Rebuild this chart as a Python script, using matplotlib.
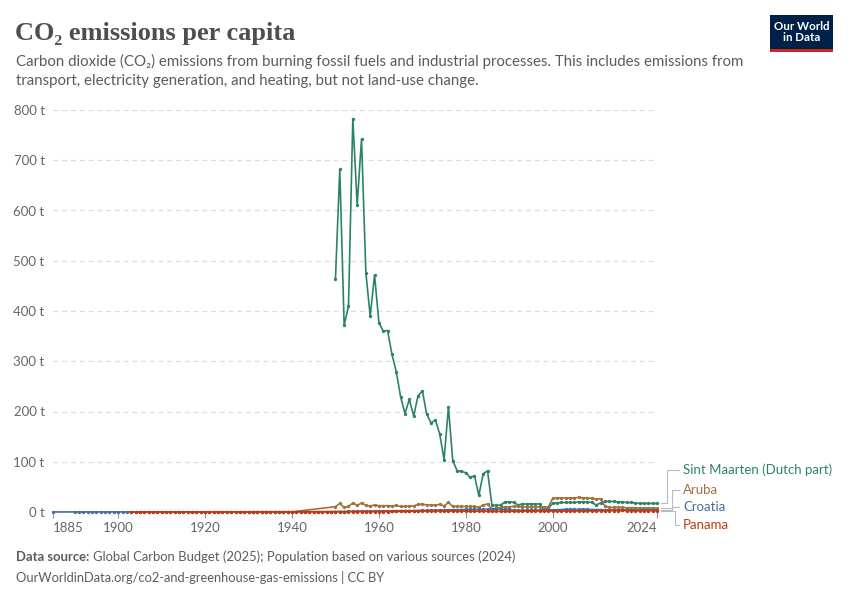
import matplotlib
matplotlib.use("Agg")
import matplotlib.pyplot as plt
from matplotlib.patches import Rectangle
from matplotlib.lines import Line2D

plt.rcParams['font.family'] = ['Lato', 'DejaVu Sans']

# --- data (t CO2 per person) ---
sxm_years = list(range(1950, 2025))
sxm_values = [464, 682, 372, 409, 783, 611, 742, 476, 390, 472,
              377, 360, 361, 314, 279, 229, 196, 224, 191, 231,
              241, 195, 177, 183, 155, 104, 209, 102, 82, 81,
              78, 69, 72, 33, 76, 82, 14, 13, 14, 20,
              20, 19, 14, 16, 16, 16, 16, 16, 4, 7,
              18, 18, 19, 19, 19, 19, 20, 20, 20, 19,
              14, 18, 21, 21, 21, 20, 20, 19, 19, 18,
              17, 17, 17, 17, 17]

aruba_years = list(range(1930, 1941)) + list(range(1950, 2025))
aruba_values = [0.3, 0.3, 0.3, 0.3, 0.3, 0.3, 0.3, 0.3, 0.3, 0.3, 0.3,
                10.6, 17, 9, 11, 18, 13, 18, 13, 12, 14,
                12.5, 12.5, 12.5, 12, 13, 11, 11, 12, 12, 15,
                16, 14, 14, 14, 15, 12, 19, 11, 11, 11,
                11, 11, 11, 9, 14, 16, 6, 8, 9, 10,
                10, 11, 11, 10, 10, 10, 10, 10, 10, 10,
                27, 28, 28, 28, 28, 28, 29, 28, 28, 27,
                26, 26, 12, 9, 9, 9, 9, 8.5, 8.5, 8.5,
                8, 8, 8, 8, 8]

croatia_years = [1885] + list(range(1890, 2025))
croatia_values = [0.05,
                  0.08, 0.08, 0.09, 0.09, 0.10, 0.10, 0.11, 0.11, 0.12, 0.12,
                  0.13, 0.13, 0.14, 0.14, 0.15, 0.15, 0.16, 0.17, 0.17, 0.18,
                  0.19, 0.20, 0.21, 0.22, 0.20, 0.18, 0.17, 0.17, 0.18, 0.20,
                  0.22, 0.24, 0.26, 0.28, 0.30, 0.32, 0.33, 0.35, 0.37, 0.39,
                  0.38, 0.36, 0.35, 0.37, 0.40, 0.43, 0.46, 0.50, 0.52, 0.54,
                  0.50, 0.45, 0.40, 0.38, 0.35, 0.40, 0.50, 0.60, 0.70, 0.80,
                  0.85, 0.90, 0.95, 1.00, 1.10, 1.20, 1.30, 1.40, 1.50, 1.60,
                  1.75, 1.90, 2.00, 2.10, 2.30, 2.40, 2.50, 2.60, 2.70, 2.90,
                  3.10, 3.30, 3.50, 3.70, 3.90, 4.00, 4.20, 4.40, 4.60, 4.80,
                  5.00, 5.10, 5.00, 5.00, 5.10, 5.20, 5.30, 5.40, 5.40, 5.30,
                  5.10, 3.60, 3.40, 3.50, 3.40, 3.60, 3.80, 4.00, 4.20, 4.30,
                  4.30, 4.60, 4.80, 5.10, 5.00, 5.00, 5.00, 5.20, 5.10, 4.80,
                  4.70, 4.60, 4.30, 4.20, 4.00, 4.10, 4.10, 4.30, 4.20, 4.30,
                  4.10, 4.30, 4.40, 4.20, 4.20]

panama_years = list(range(1903, 2025))
panama_values = [0.05, 0.05, 0.06, 0.06, 0.07, 0.07, 0.08,
                 0.08, 0.09, 0.10, 0.10, 0.11, 0.12, 0.12, 0.13, 0.13, 0.14,
                 0.15, 0.15, 0.16, 0.17, 0.18, 0.19, 0.20, 0.21, 0.22, 0.23,
                 0.23, 0.22, 0.22, 0.23, 0.24, 0.25, 0.26, 0.27, 0.28, 0.29,
                 0.30, 0.32, 0.33, 0.34, 0.35, 0.37, 0.40, 0.42, 0.45, 0.47,
                 0.50, 0.52, 0.55, 0.60, 0.62, 0.65, 0.68, 0.72, 0.75, 0.80,
                 0.85, 0.90, 0.95, 1.00, 1.10, 1.20, 1.30, 1.40, 1.60, 1.70,
                 1.90, 2.00, 2.10, 2.20, 2.10, 2.00, 2.10, 2.00, 2.00, 1.90,
                 1.80, 1.70, 1.60, 1.50, 1.50, 1.40, 1.30, 1.30, 1.20, 1.30,
                 1.30, 1.40, 1.60, 1.70, 1.80, 1.90, 2.00, 2.10, 2.10, 2.20,
                 2.10, 2.00, 2.00, 2.00, 2.10, 2.00, 2.10, 2.10, 2.20, 2.30,
                 2.40, 2.50, 2.60, 2.70, 2.80, 2.90, 3.00, 2.90, 2.80, 2.70,
                 2.20, 2.40, 2.60, 2.70, 2.70]

series = [
    ("Sint Maarten (Dutch part)", sxm_years, sxm_values, "#2c8465"),
    ("Aruba", aruba_years, aruba_values, "#a2703c"),
    ("Croatia", croatia_years, croatia_values, "#4c6a9c"),
    ("Panama", panama_years, panama_values, "#c0390f"),
]
label_y_px = [470, 490, 507, 525]
elbow_x_px = [667, 672, 672, 675]

y_ticks = [0, 100, 200, 300, 400, 500, 600, 700, 800]
x_ticks = [1885, 1900, 1920, 1940, 1960, 1980, 2000, 2024]

W, H = 850, 600
fig = plt.figure(figsize=(W / 100, H / 100), dpi=100)
fig.patch.set_facecolor("white")


def fx(px):
    return px / W


def fy(py):
    return 1 - py / H


ax = fig.add_axes([fx(53), fy(512), fx(657) - fx(53), fy(110) - fy(512)])
ax.set_xlim(1885, 2024)
ax.set_ylim(0, 800)
ax.patch.set_alpha(0)
for s in ax.spines.values():
    s.set_visible(False)

for v in y_ticks[1:]:
    ax.axhline(v, color="#dddddd", lw=0.9, ls=(0, (4, 3)), zorder=0)
ax.axhline(0, color="#999999", lw=0.9, zorder=1)

ax.set_yticks(y_ticks)
ax.set_yticklabels([f"{v} t" for v in y_ticks])
ax.tick_params(axis="y", length=0, pad=6, labelsize=9.5, labelcolor="#666666")
ax.set_xticks(x_ticks)
ax.set_xticklabels([str(v) for v in x_ticks])
ax.tick_params(axis="x", length=4, width=0.8, color="#999999", pad=3,
               labelsize=9.5, labelcolor="#666666")
xl = ax.get_xticklabels()
xl[0].set_horizontalalignment("left")
xl[-1].set_horizontalalignment("right")

for name, yrs, vals, col in series:
    ax.plot(yrs, vals, color=col, lw=1.2, marker="o", ms=2.4,
            markeredgewidth=0, zorder=3, clip_on=False)

# labels with connector lines
for (name, yrs, vals, col), ly, ex in zip(series, label_y_px, elbow_x_px):
    _, ypix = ax.transData.transform((yrs[-1], vals[-1]))
    yend = H - ypix
    xs = [fx(661), fx(ex), fx(ex), fx(679)]
    ys = [fy(yend), fy(yend), fy(ly), fy(ly)]
    fig.add_artist(Line2D(xs, ys, color="#bbbbbb", lw=0.8))
    fig.text(fx(683), fy(ly), name, color=col, fontsize=9.5, va="center", ha="left")

# header
fig.text(fx(15), fy(40), "CO₂ emissions per capita", fontsize=19,
         family=["Liberation Serif", "DejaVu Serif"], fontweight="bold",
         color="#4e4e4e", va="baseline")
fig.text(fx(16), fy(66), "Carbon dioxide (CO₂) emissions from burning fossil fuels and industrial processes. This includes emissions from",
         fontsize=10.8, color="#5b5b5b", va="baseline")
fig.text(fx(16), fy(85), "transport, electricity generation, and heating, but not land-use change.",
         fontsize=10.8, color="#5b5b5b", va="baseline")

# logo
fig.add_artist(Rectangle((fx(770), fy(52)), fx(833) - fx(770), fy(15) - fy(52),
                         transform=fig.transFigure, color="#002147", lw=0))
fig.add_artist(Rectangle((fx(770), fy(52)), fx(833) - fx(770), fy(49) - fy(52),
                         transform=fig.transFigure, color="#ce261e", lw=0))
fig.text(fx(801.5), fy(32), "Our World\nin Data", color="white", fontsize=8.3,
         ha="center", va="center", fontweight="bold", linespacing=1.0)

# footer
src = fig.text(fx(16), fy(561), "Data source:", fontsize=9.4, color="#5b5b5b",
               fontweight="bold", va="baseline")
fig.canvas.draw()
bb = src.get_window_extent(fig.canvas.get_renderer())
fig.text(bb.x1 / W + fx(4), fy(561), "Global Carbon Budget (2025); Population based on various sources (2024)",
         fontsize=9.4, color="#5b5b5b", va="baseline")
fig.text(fx(16), fy(582), "OurWorldinData.org/co2-and-greenhouse-gas-emissions | CC BY",
         fontsize=9.3, color="#5b5b5b", va="baseline")

fig.savefig("out.png", dpi=100, facecolor="white")
